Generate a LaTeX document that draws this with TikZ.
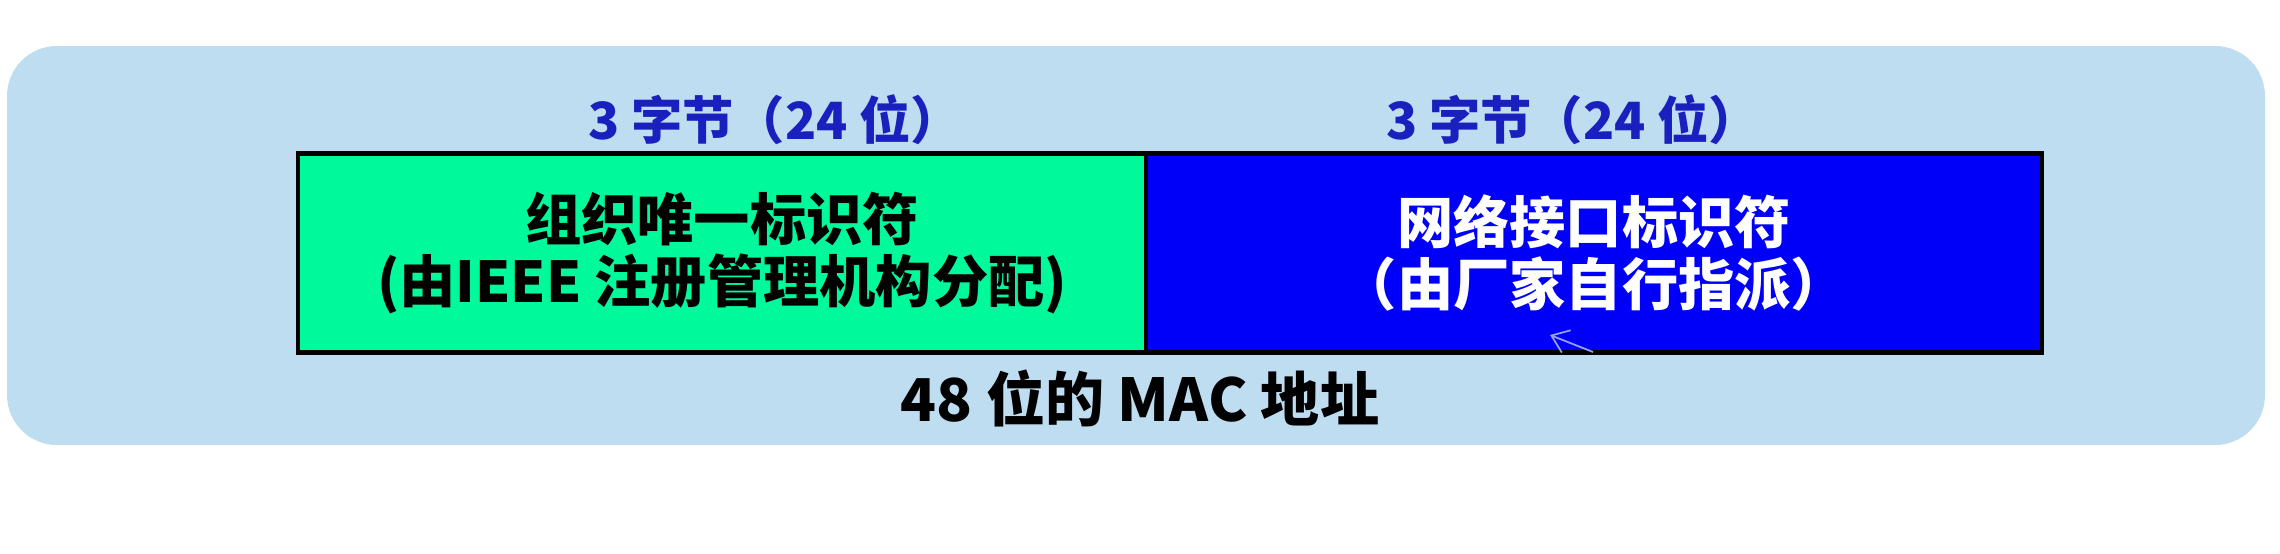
\documentclass[tikz,border=0pt]{standalone}
\usepackage{fontspec}
\usepackage{xcolor}
\usepackage{tikz}
\usetikzlibrary{arrows.meta, positioning}

\setmainfont{Noto Sans CJK SC}

\definecolor{framebg}{RGB}{190,221,241}
\definecolor{ouigreen}{RGB}{0,250,155}
\definecolor{nicblue}{RGB}{0,0,250}
\definecolor{sizeblue}{RGB}{26,32,190}
\definecolor{penmark}{RGB}{150,162,236}

\begin{document}
\begin{tikzpicture}[
      x = 1cm, y = 1cm, font = \bfseries,
      frame/.style = {fill = framebg, rounded corners = 0.5cm},
      field/.style = {draw = black, line width = 1.4pt, inner sep = 0pt,
                      minimum height = 1.99cm, align = center,
                      font = \bfseries\fontsize{16pt}{17.6pt}\selectfont},
      size/.style  = {text = sizeblue, inner sep = 1pt,
                      font = \bfseries\fontsize{14.6pt}{16pt}\selectfont},
      total/.style = {text = black, inner sep = 1pt,
                      font = \bfseries\fontsize{16.8pt}{18pt}\selectfont},
      pen/.style   = {-{Straight Barb[length = 1.6mm, width = 2.4mm]},
                      draw = penmark, line width = .5pt}
    ]

  \useasboundingbox[fill = white] (0,0) rectangle (22.80,5.53);

  % background ------------------------------------------------------------
  \fill[frame] (0.07,1.08) rectangle (22.65,5.07);

  % the two fields ----------------------------------------------------------
  \node[field, fill = ouigreen, text = black, minimum width = 8.48cm] (oui) at (7.22,3.00)
        {组织唯一标识符\\(由IEEE 注册管理机构分配)};
  \node[field, fill = nicblue, text = white, minimum width = 8.96cm,
        right = -1.4pt of oui] (nic)
        {网络接口标识符\\（由厂家自行指派）};

  % sizes -------------------------------------------------------------------
  \node[size] (ouisize) at (7.75,4.33) {3 字节（24 位）};
  \node[size] (nicsize) at (15.73,4.33) {3 字节（24 位）};

  \node[total] (mac) at (11.40,1.55) {48 位的 MAC 地址};

  % pen mark ----------------------------------------------------------------
  \coordinate (pentail) at (15.93,2.01);
  \coordinate (pentip) at (15.50,2.18);
  \draw[pen] (pentail) -- (pentip);

\end{tikzpicture}
\end{document}
